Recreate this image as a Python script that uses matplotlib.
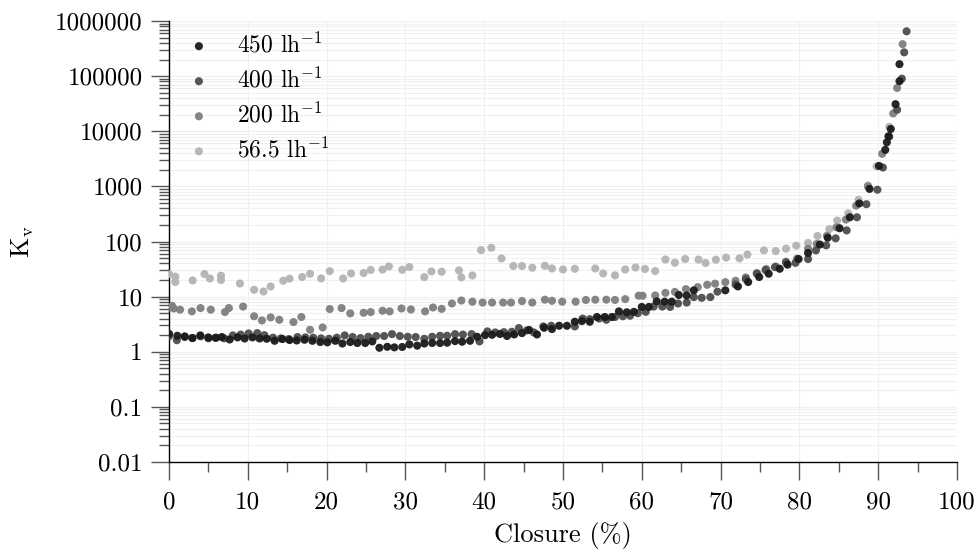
import matplotlib
matplotlib.use("Agg")
import matplotlib.pyplot as plt
from matplotlib.ticker import FixedLocator, FixedFormatter, NullFormatter, MultipleLocator

# --- Данные ---
# 450 l/h
closure_450 = [0.0, 1.05, 2.0, 2.96, 3.97, 4.99, 5.9, 6.7, 7.7, 8.7, 9.6, 10.6, 11.5, 12.4,
               13.4, 14.4, 15.3, 16.2, 17.2, 18.2, 19.2, 20.1, 21.1, 22.0, 23.0, 23.9, 24.9,
               25.8, 26.7, 27.7, 28.6, 29.6, 30.5, 31.5, 32.4, 33.4, 34.4, 35.3, 36.3, 37.2,
               38.2, 39.1, 40.1, 41.0, 42.0, 42.9, 43.8, 44.8, 45.7, 46.7, 47.6, 48.6, 49.5,
               50.5, 51.5, 52.4, 53.4, 54.3, 55.3, 56.2, 57.1, 58.1, 59.0, 60.0, 60.9, 61.9,
               62.9, 63.8, 64.7, 65.7, 66.6, 70.6, 72.2, 73.5, 74.9, 76.1, 77.5, 78.5, 79.9,
               81.1, 82.6, 83.6, 85.1, 86.4, 87.6, 88.9, 90.1, 90.9, 91.1, 91.3, 91.6, 92.2,
               92.7, 92.7]
kv_450 = [2.12, 1.95, 1.9, 1.77, 1.98, 1.82, 1.79, 1.85, 1.67, 1.82, 1.74, 1.82, 1.74, 1.72,
          1.58, 1.7, 1.63, 1.6, 1.65, 1.58, 1.5, 1.48, 1.58, 1.41, 1.5, 1.44, 1.44,
          1.54, 1.18, 1.23, 1.2, 1.22, 1.36, 1.29, 1.41, 1.44, 1.44, 1.46, 1.56, 1.52,
          1.58, 1.87, 2.0, 2.03, 2.1, 1.93, 2.06, 2.18, 2.48, 2.06, 2.72, 2.58, 2.96,
          2.96, 3.5, 3.6, 3.5, 4.27, 4.27, 4.27, 5.4, 5.2, 5.3, 6.5, 6.5, 8.2,
          8.1, 8.1, 10.7, 10.5, 13.0, 13.0, 15.3, 18.4, 22.7, 26, 32, 38, 48,
          62, 88, 117, 174, 275, 490, 900, 2350, 4600, 6300, 8100, 11000, 31000,
          81000, 165000]

# 400 l/h
closure_400 = [0.0, 1.0, 2.0, 3.0, 4.0, 5.0, 6.0, 7.0, 8.1, 9.1, 10.1, 11.2, 12.1, 13.2, 14.2,
               15.2, 16.3, 17.3, 18.3, 19.3, 20.3, 21.3, 22.3, 23.3, 24.3, 25.3, 26.3, 27.3,
               28.3, 29.3, 30.3, 31.3, 32.4, 33.4, 34.4, 35.3, 36.3, 37.3, 38.4, 39.4, 40.4,
               41.4, 42.5, 43.5, 44.4, 45.4, 46.3, 47.5, 48.5, 51.5, 52.5, 53.4, 54.6, 55.5,
               56.6, 57.6, 58.5, 59.5, 60.5, 61.5, 62.6, 63.6, 64.6, 65.7, 66.6, 67.6, 68.7,
               69.6, 71.9, 73.2, 74.6, 75.7, 76.9, 78.3, 79.5, 81.1, 82.1, 83.4, 84.6, 86.0,
               87.3, 88.5, 89.9, 90.6, 91.4, 92.4, 93.0, 93.3, 93.6]
kv_400 = [1.9, 1.62, 1.85, 1.78, 1.9, 1.75, 1.8, 1.75, 1.98, 2.05, 2.15, 2.18, 2.0, 1.8, 1.75,
          1.7, 1.85, 1.82, 1.8, 1.75, 1.72, 1.8, 1.98, 1.85, 1.77, 1.87, 1.93, 1.93,
          2.09, 1.93, 1.87, 1.85, 1.72, 1.87, 1.95, 1.95, 2.09, 2.05, 2.09, 1.54, 2.34,
          2.24, 2.27, 2.3, 2.69, 2.44, 2.24, 2.88, 2.96, 2.88, 4.0, 3.9, 4.0, 3.8,
          4.27, 4.4, 4.5, 5.0, 5.3, 6.6, 6.6, 6.5, 7.5, 7.8, 9.8, 9.5, 9.8,
          12.3, 16.6, 20.8, 26, 30.4, 34.3, 41.7, 41, 48, 69, 85, 114, 159,
          275, 475, 870, 2200, 8000, 24500, 90000, 270000, 650000]

# 200 l/h
closure_200 = [0.0, 0.4, 0.6, 1.4, 2.9, 4.0, 5.3, 7.1, 7.6, 9.4, 10.8, 11.8, 12.9, 14.0, 15.8,
               16.8, 17.9, 19.5, 20.4, 21.9, 23.0, 24.7, 25.6, 27.1, 28.0, 29.5, 30.7, 32.5,
               33.5, 34.6, 35.9, 37.1, 38.5, 39.8, 41.0, 42.4, 43.4, 44.8, 46.1, 47.7, 48.6,
               49.9, 51.6, 52.9, 54.1, 55.5, 56.6, 57.9, 59.6, 60.1, 61.7, 63.0, 64.2, 65.6,
               67.1, 68.3, 69.3, 70.6, 71.9, 73.2, 74.6, 75.8, 77.0, 78.3, 79.7, 81.1, 82.2,
               83.5, 84.7, 85.9, 87.2, 88.7, 90.5, 91.9, 92.4, 93.1]
kv_200 = [6.4, 6.8, 6.1, 5.8, 5.4, 6.2, 5.8, 5.25, 6.2, 6.6, 4.4, 3.7, 4.2, 3.8, 3.46,
          4.27, 2.5, 2.76, 5.95, 6.2, 4.96, 5.1, 5.25, 5.55, 5.4, 6.1, 5.85, 5.4,
          6.35, 6.0, 7.5, 8.5, 8.1, 7.8, 7.8, 7.8, 7.8, 8.3, 7.8, 8.8, 8.4,
          8.1, 8.1, 8.7, 8.8, 8.8, 8.7, 9.0, 10.4, 10.4, 10.5, 11.7, 12.2, 13.7,
          14.9, 16.4, 17.2, 18.3, 19.4, 22.3, 26.8, 31.6, 35.3, 43, 49, 74, 90,
          127, 181, 250, 446, 1000, 3900, 21000, 61000, 380000]

# 56.5 l/h
closure_56 = [0.0, 0.8, 0.8, 3.0, 4.5, 5.2, 6.6, 6.6, 9.0, 10.8, 12.0, 12.9, 14.5, 15.3, 16.9,
              17.9, 19.3, 20.4, 22.1, 23.1, 24.7, 25.6, 27.1, 27.9, 29.6, 30.5, 32.4, 33.3,
              34.6, 36.8, 37.1, 38.5, 39.6, 40.9, 42.2, 43.7, 44.8, 46.1, 47.7, 48.6, 50.0,
              51.5, 54.1, 55.1, 56.6, 57.9, 59.2, 60.4, 61.7, 63.0, 64.2, 65.5, 67.2, 68.1,
              69.4, 70.7, 72.4, 73.4, 75.5, 77.0, 78.3, 79.6, 81.1, 82.3, 83.8, 84.8, 86.2,
              87.5, 88.7, 89.8, 91.4]
kv_56 = [25.7, 23, 18.4, 19.7, 25.7, 21.3, 24, 20, 17.3, 13.3, 12.4, 15.3, 19.4, 21.2, 22.7,
         26, 21.4, 29, 21.4, 26.3, 26.8, 30.5, 31, 35.3, 30.7, 34.4, 22.6, 28.6,
         28.3, 29.9, 22.3, 24.2, 70, 77, 49.4, 36, 36, 33.4, 36.3, 32.4, 31.1,
         32, 32.4, 26.3, 24.3, 31.1, 33.8, 31.7, 29.1, 47.2, 41.2, 48, 47, 40.7,
         46.8, 51, 49.4, 58, 69, 67, 74, 84, 94, 126, 168, 240, 324,
         570, 1040, 2300, 12000]

series = [
    ("450 lh$^{-1}$", closure_450, kv_450, "#1a1a1a"),
    ("400 lh$^{-1}$", closure_400, kv_400, "#4d4d4d"),
    ("200 lh$^{-1}$", closure_200, kv_200, "#7f7f7f"),
    ("56.5 lh$^{-1}$", closure_56, kv_56, "#b3b3b3"),
]

plt.rcParams['font.family'] = 'serif'
plt.rcParams['font.serif'] = ['cmr10']
plt.rcParams['mathtext.fontset'] = 'cm'
plt.rcParams['axes.unicode_minus'] = False

fig = plt.figure(figsize=(9.8, 5.52), dpi=100)
ax = fig.add_axes([169 / 980, 90 / 552, 788 / 980, 441 / 552])

# рисуем от светлых к тёмным, чтобы чёрные точки были сверху
handles = {}
for z, (label, xs, ys, color) in enumerate(reversed(series)):
    h = ax.scatter(xs, ys, s=34, color=color, edgecolors='none', alpha=0.95,
                   label=label, zorder=3 + z)
    handles[label] = h

ax.set_yscale('log')
ax.set_xlim(0, 100)
ax.set_ylim(0.01, 1e6)

yticks = [1e-2, 1e-1, 1, 10, 100, 1e3, 1e4, 1e5, 1e6]
ylabels = ['0.01', '0.1', '1', '10', '100', '1000', '10000', '100000', '1000000']
ax.yaxis.set_major_locator(FixedLocator(yticks))
ax.yaxis.set_major_formatter(FixedFormatter(ylabels))
minor = [m * 10.0 ** e for e in range(-2, 6) for m in range(2, 10)]
ax.yaxis.set_minor_locator(FixedLocator(minor))
ax.yaxis.set_minor_formatter(NullFormatter())
ax.xaxis.set_major_locator(MultipleLocator(10))
ax.xaxis.set_minor_locator(MultipleLocator(5))

ax.tick_params(which='major', direction='out', length=13, width=1, color='#555555',
               labelsize=18, pad=6)
ax.tick_params(which='minor', direction='out', length=7, width=1, color='#555555')
ax.tick_params(axis='x', which='major', pad=8)

ax.grid(True, which='major', axis='x', color='#f0f0f0', linewidth=0.8, zorder=0)
ax.grid(True, which='both', axis='y', color='#f0f0f0', linewidth=0.8, zorder=0)
ax.set_axisbelow(True)

for side in ['top', 'right']:
    ax.spines[side].set_visible(False)
for side in ['left', 'bottom']:
    ax.spines[side].set_color('black')
    ax.spines[side].set_linewidth(1.0)

ax.set_xlabel('Closure (%)', fontsize=19, labelpad=6)
ax.set_ylabel(r'K$_\mathrm{v}$', fontsize=19, labelpad=14)

leg = ax.legend([handles[s[0]] for s in series], [s[0] for s in series],
                loc='upper left', bbox_to_anchor=(-0.013, 1.012), frameon=False,
                fontsize=17, handletextpad=0.6, labelspacing=0.42, borderaxespad=0.3,
                scatterpoints=1)

fig.savefig('out.png', dpi=100)
